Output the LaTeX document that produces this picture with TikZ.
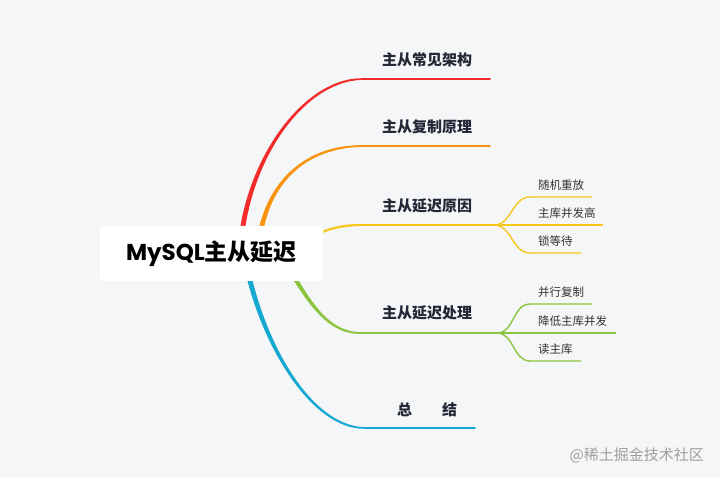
\documentclass[tikz,border=0pt]{standalone}
\usepackage{fontspec}
\setmainfont{Noto Sans CJK SC}
\newfontfamily\poppins{Poppins}
\usetikzlibrary{calc,backgrounds}

\definecolor{bgcol}{HTML}{F5F6F8}
\definecolor{bred}{HTML}{F22B2B}
\definecolor{borange}{HTML}{F8940F}
\definecolor{byellow}{HTML}{F7C71C}
\definecolor{bgreen}{HTML}{8CC43F}
\definecolor{bblue}{HTML}{15A8D0}
\definecolor{txtmain}{HTML}{232836}
\definecolor{txtsub}{HTML}{333333}

% tapered branch: colour, start, control 1, control 2, end, half width at start
\newcommand{\branchcurve}[6]{%
  \fill[#1] ($(#2)+({-(#6)},0)$) .. controls ($(#3)+({-(#6)},0)$) and ($(#4)+(0,-1.9)$) .. ($(#5)+(0,-0.8)$)
    -- ($(#5)+(0,0.8)$) .. controls ($(#4)+(0,1.9)$) and ($(#3)+(#6,0)$) .. ($(#2)+(#6,0)$) -- cycle;}

\begin{document}
\begin{tikzpicture}[x=1pt, y=-1pt,
  every node/.style={inner sep=0pt},
  rootbox/.style={fill=white, rounded corners=3pt, minimum width=223pt, minimum height=55pt, font=\fontsize{23}{28}\selectfont\bfseries, text=black},
  mainlabel/.style={font=\fontsize{15}{18}\selectfont\bfseries, text=txtmain},
  sublabel/.style={anchor=west, font=\fontsize{11.5}{14}\selectfont, text=txtsub},
  underline/.style={line width=1.5pt, line cap=round},
  twig/.style={line width=1.4pt}
]
\node[rootbox] (root) at (211.5,253.5) {{\poppins MySQL}主从延迟};
% branch starts (under the root box)
\coordinate (s1) at ($(root.center)+(28.5,8.5)$);
\coordinate (s2) at ($(root.center)+(46.5,8.5)$);
\coordinate (s3) at ($(root.center)+(88.5,-8.5)$);
\coordinate (s4) at ($(root.center)+(73.5,8.5)$);
\coordinate (s5) at ($(root.center)+(33.5,4.5)$);
% control points and line ends
\coordinate (c1) at (240,170); \coordinate (d1) at (300,79);  \coordinate (e1) at (363,79);  \coordinate (u1) at (490,79);
\coordinate (c2) at (258,190); \coordinate (d2) at (300,146); \coordinate (e2) at (363,146); \coordinate (u2) at (490,146);
\coordinate (c3) at (320,230); \coordinate (d3) at (338,225); \coordinate (e3) at (363,225); \coordinate (j3) at (494,225);
\coordinate (c4) at (305,295); \coordinate (d4) at (325,333); \coordinate (e4) at (360,333); \coordinate (j4) at (497,333);
\coordinate (c5) at (260,340); \coordinate (d5) at (310,428); \coordinate (e5) at (365,428); \coordinate (u5) at (475,428);

\begin{scope}[on background layer]
\fill[bgcol] (0,0) rectangle (720,478);
\branchcurve{bred}{s1}{c1}{d1}{e1}{2.6}
\branchcurve{borange}{s2}{c2}{d2}{e2}{2.6}
\branchcurve{byellow}{s3}{c3}{d3}{e3}{2.2}
\branchcurve{bgreen}{s4}{c4}{d4}{e4}{-2.6}
\branchcurve{bblue}{s5}{c5}{d5}{e5}{-2.6}
\draw[underline, bred] (e1) -- (u1);
\draw[underline, borange] (e2) -- (u2);
\draw[underline, byellow] (e3) -- (j3);
\draw[underline, bgreen] (e4) -- (j4);
\draw[underline, bblue] (e5) -- (u5);
\end{scope}

% main labels
\node[mainlabel] (l1) at (427,60) {主从常见架构};
\node[mainlabel] (l2) at (427,127) {主从复制原理};
\node[mainlabel] (l3) at (427,206) {主从延迟原因};
\node[mainlabel] (l4) at (427,313) {主从延迟处理};
\node[mainlabel] (l5) at (427,410) {总　　结};

% sub branches
\foreach \i/\yy/\xe/\txt in {1/197/592/随机重放, 2/225/603/主库并发高, 3/253/581/锁等待} {
  \coordinate (ya\i) at (530,\yy);
  \coordinate (yb\i) at (\xe,\yy);
  \draw[twig, byellow] (j3) to[out=0, in=180] (ya\i) -- (yb\i);
  \node[sublabel] (yt\i) at (538,\yy-12) {\txt};
}
\foreach \i/\yy/\xe/\txt in {1/304/592/并行复制, 2/333/616/降低主库并发, 3/361/581/读主库} {
  \coordinate (ga\i) at (530,\yy);
  \coordinate (gb\i) at (\xe,\yy);
  \draw[twig, bgreen] (j4) to[out=0, in=180] (ga\i) -- (gb\i);
  \node[sublabel] (gt\i) at (538,\yy-12) {\txt};
}

\node[anchor=east, font=\fontsize{15}{17}\selectfont, text=black!38] (wm) at (704,455) {@稀土掘金技术社区};
\end{tikzpicture}
\end{document}
